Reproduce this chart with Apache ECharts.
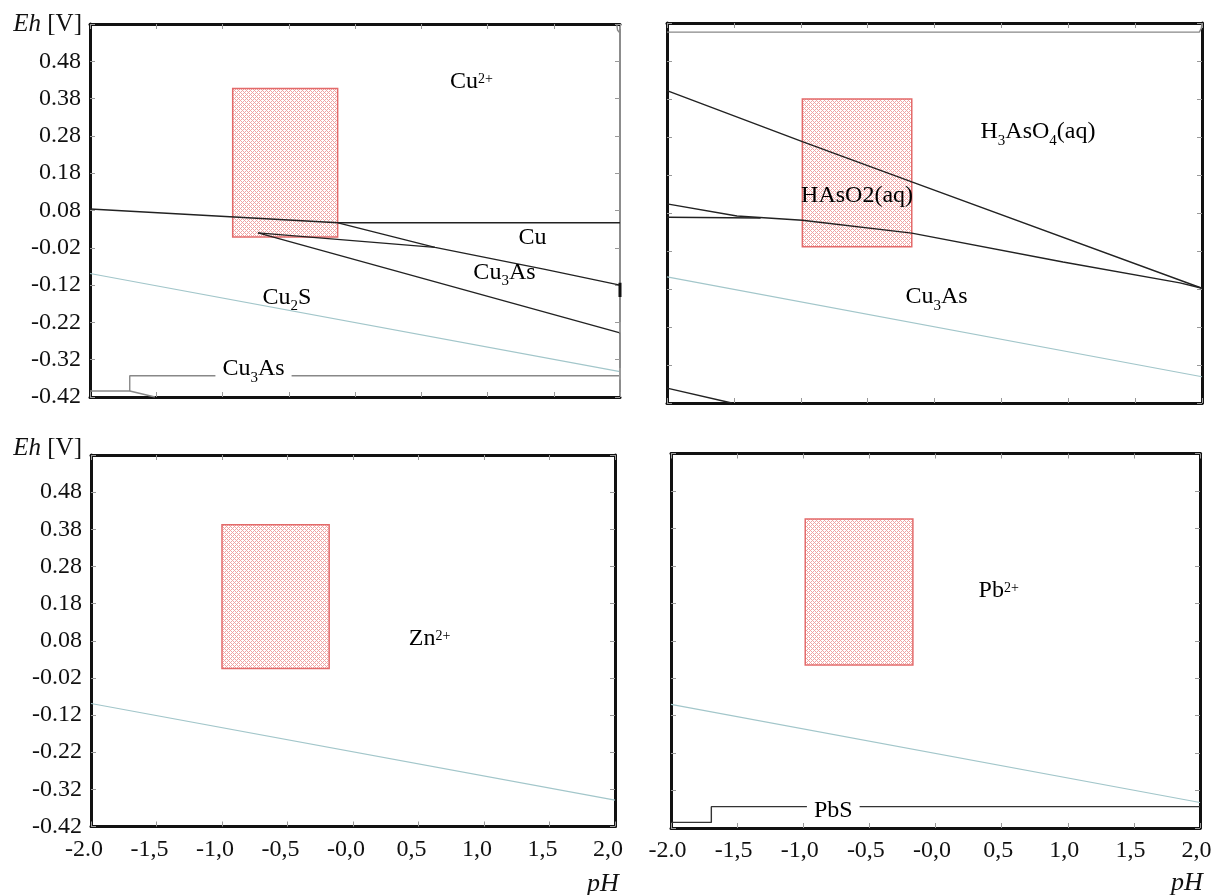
<!DOCTYPE html>
<html><head><meta charset="utf-8">
<script src="https://cdn.jsdelivr.net/npm/echarts@6/dist/echarts.min.js"></script>
<style>html,body{margin:0;padding:0;background:#fff}#c{width:1224px;height:895px}</style>
</head><body><div id="c"></div>
<script>
// ================= DATA (pH, Eh [V]) =================
const xTickLabels = ['-2.0','-1,5','-1,0','-0,5','-0,0','0,5','1,0','1,5','2,0'];
const yTickLabels = ['-0.42','-0.32','-0.22','-0.12','-0.02','0.08','0.18','0.28','0.38','0.48'];
const EH_MIN = -0.42;   // Eh at bottom of every panel
const EH_MAX = 0.58;    // Eh at top of every panel

// --- panel 1 (top-left) : Cu system ---
const tlLineA = [[-2.0,0.084],[-0.128,0.047],[2.0,0.047]];
const tlLineB = [[-0.128,0.047],[0.604,-0.019],[1.434,-0.078],[2.0,-0.120]];
const tlLineC = [[-0.732,0.020],[0.604,-0.019]];
const tlLineD = [[-0.732,0.020],[2.0,-0.248]];
const tlWater = [[-2.0,-0.089],[2.0,-0.352]];
const tlStep = [[-2.0,-0.404],[-1.70,-0.404],[-1.70,-0.363],[2.0,-0.363]];
const tlStepDiag = [[-1.70,-0.404],[-1.51,-0.42]];
const tlCorner = [[1.975,0.58],[1.982,0.563],[2.0,0.556]];
const tlEdge1 = [[2.0,-0.114],[2.0,-0.152]];
const tlEdge2 = [[2.0,-0.219],[2.0,-0.248]];
const tlEdge3 = [[2.0,-0.342],[2.0,-0.374]];
const tlRect = [-0.923,0.407,-0.131,0.009];
const tlLabels = [['Cu^2+',0.879,0.424],['Cu',1.340,0.008],['Cu_3As',1.128,-0.086],['Cu_2S',-0.513,-0.153],['Cu_3As',-0.766,-0.345]];

// --- panel 2 (top-right) : As system ---
const trTop = [[-2.0,0.556],[1.98,0.556],[1.995,0.566],[2.0,0.58]];
const trLineE = [[-2.0,0.402],[-0.988,0.268],[-0.170,0.162],[2.0,-0.118]];
const trLineF = [[-2.0,0.104],[-1.477,0.072],[-0.988,0.061],[-0.170,0.027],[0.961,-0.049],[1.835,-0.104],[2.0,-0.118]];
const trLineG = [[-2.0,0.069],[-1.30,0.067]];
const trLineH = [[-2.0,-0.381],[-1.516,-0.42]];
const trWater = [[-2.0,-0.088],[2.0,-0.351]];
const trRect = [-0.988,0.380,-0.170,-0.009];
const trLabels = [['H_3AsO_4(aq)',0.774,0.293],['HAsO2(aq)',-0.579,0.126],['Cu_3As',0.015,-0.140]];

// --- panel 3 (bottom-left) : Zn system ---
const blWater = [[-2.0,-0.089],[2.0,-0.349]];
const blRect = [-1.000,0.392,-0.182,0.005];
const blLabels = [['Zn^2+',0.584,0.085]];

// --- panel 4 (bottom-right) : Pb system ---
const brWater = [[-2.0,-0.090],[2.0,-0.352]];
const brStep = [[-2.0,-0.405],[-1.695,-0.405],[-1.695,-0.363],[2.0,-0.363]];
const brRect = [-0.985,0.405,-0.171,0.015];
const brLabels = [['Pb^2+',0.478,0.214],['PbS',-0.773,-0.375]];

// ================= STYLE / LAYOUT =================
const FONT = "'Liberation Serif','Times New Roman',serif";
const TICK_FS = 24;
const LAYOUT = [
  {left:90,  top:24,    width:530, height:373},
  {left:667, top:23,    width:535, height:380},
  {left:91,  top:455,   width:524, height:371.5},
  {left:671, top:453.5, width:529, height:374.5}
];
const LS = {
  bnd:{color:'#222',width:1.4},
  water:{color:'#a2c6ca',width:1.1},
  gray:{color:'#888',width:1.4},
  dark:{color:'#333',width:1.4},
  edge:{color:'#111',width:3},
  edgeGray:{color:'#9a9a9a',width:2}
};
const panels = [
  {lines:[[tlLineA,'bnd'],[tlLineB,'bnd'],[tlLineC,'bnd'],[tlLineD,'bnd'],[tlWater,'water'],[tlStep,'gray'],[tlStepDiag,'gray'],[tlCorner,'gray'],[tlEdge1,'edge'],[tlEdge2,'edgeGray'],[tlEdge3,'edgeGray']],
   rect:tlRect, labels:tlLabels, yLab:true, xLab:false, rightThin:true, xShift:0},
  {lines:[[trTop,'gray'],[trLineE,'bnd'],[trLineF,'bnd'],[trLineG,'bnd'],[trLineH,'bnd'],[trWater,'water']],
   rect:trRect, labels:trLabels, yLab:false, xLab:false, rightThin:false, xShift:0},
  {lines:[[blWater,'water']], rect:blRect, labels:blLabels, yLab:true, xLab:true, rightThin:false, xShift:7},
  {lines:[[brWater,'water'],[brStep,'dark']], rect:brRect, labels:brLabels, yLab:false, xLab:true, rightThin:false, xShift:3.5}
];

// crosshatch texture for the rectangles
const pc = document.createElement('canvas'); pc.width = 4; pc.height = 4;
const g2 = pc.getContext('2d');
g2.fillStyle = '#fff'; g2.fillRect(0,0,4,4);
g2.fillStyle = 'rgba(225,90,90,0.55)';
for (let x=0;x<4;x++) for (let y=0;y<4;y++) if ((x+y)%4===0 || (x-y+4)%4===0) g2.fillRect(x,y,1,1);
const PATTERN = {image: pc, repeat: 'repeat'};

function richOf(f){
  const re = /_(\d+)|\^(\d+[+-])|([^_^]+)/g; let m, s='';
  while ((m = re.exec(f))) { if (m[1]) s += '{b|'+m[1]+'}'; else if (m[2]) s += '{p|'+m[2]+'}'; else s += '{n|'+m[3]+'}'; }
  return s;
}
function richStyles(lh){
  return {
    n:{fontSize:24,fontFamily:FONT,color:'#000',lineHeight:lh,textBorderWidth:0},
    b:{fontSize:15,fontFamily:FONT,color:'#000',lineHeight:lh,padding:[18,0,0,0],textBorderWidth:0},
    p:{fontSize:14,fontFamily:FONT,color:'#000',lineHeight:lh,padding:[0,0,5,0],textBorderWidth:0}
  };
}
const sh = eh => eh - EH_MIN;

const grid=[], xAxis=[], yAxis=[], series=[];
const tick = {show:true, inside:true, length:5, lineStyle:{color:'#999', width:1}};
panels.forEach((p,i)=>{
  grid.push(Object.assign({outerBoundsMode:'none', containLabel:false}, LAYOUT[i]));
  const line = {onZero:false, lineStyle:{color:'#111', width:3}};
  xAxis.push({gridIndex:i, type:'value', min:-2, max:2, interval:0.5, position:'bottom', axisLine:line, axisTick:tick,
    axisLabel:{show:p.xLab, margin:11, fontSize:TICK_FS, fontFamily:FONT, color:'#111', padding:[0,p.xShift*2,0,0],
      formatter:v=>xTickLabels[Math.round((v+2)*2)]}, splitLine:{show:false}});
  xAxis.push({gridIndex:i, type:'value', min:-2, max:2, interval:0.5, position:'top', axisLine:line, axisTick:tick,
    axisLabel:{show:false}, splitLine:{show:false}});
  yAxis.push({gridIndex:i, type:'value', min:0, max:sh(EH_MAX), interval:0.1, position:'left', axisLine:line, axisTick:tick,
    axisLabel:{show:p.yLab, margin:9, fontSize:TICK_FS, fontFamily:FONT, color:'#111',
      formatter:v=>{const k=Math.round(v*10); return k<yTickLabels.length ? yTickLabels[k] : '';}}, splitLine:{show:false}});
  yAxis.push({gridIndex:i, type:'value', min:0, max:sh(EH_MAX), interval:0.1, position:'right',
    axisLine: p.rightThin ? {onZero:false, lineStyle:{color:'#666', width:1.5}} : line, axisTick:tick,
    axisLabel:{show:false}, splitLine:{show:false}});
  // region rectangle
  series.push({type:'custom', xAxisIndex:2*i, yAxisIndex:2*i, silent:true, animation:false, z:2,
    data:[[p.rect[0], sh(p.rect[1]), p.rect[2], sh(p.rect[3])]], encode:{x:[0,2], y:[1,3]},
    renderItem:(params, api)=>{
      const a = api.coord([api.value(0), api.value(1)]);
      const b = api.coord([api.value(2), api.value(3)]);
      return {type:'rect', shape:{x:Math.min(a[0],b[0]), y:Math.min(a[1],b[1]), width:Math.abs(b[0]-a[0]), height:Math.abs(b[1]-a[1])},
        style:{fill:PATTERN, stroke:'#e36a6a', lineWidth:1.5}};
    }});
  // boundary lines
  p.lines.forEach(([pts, st])=>{
    series.push({type:'line', xAxisIndex:2*i, yAxisIndex:2*i, data:pts.map(q=>[q[0], sh(q[1])]), symbol:'none',
      silent:true, animation:false, z:3, lineStyle:LS[st]});
  });
  // region labels
  series.push({type:'scatter', xAxisIndex:2*i, yAxisIndex:2*i, symbolSize:1, silent:true, animation:false, z:5,
    itemStyle:{color:'rgba(0,0,0,0)', opacity:1},
    data:p.labels.map(([t,ph,eh])=>{
      const boxed = (t==='PbS') || (t==='Cu_3As' && eh < -0.3);
      return {value:[ph, sh(eh)], rt:richOf(t),
        label: boxed ? {backgroundColor:'#fff', padding:[0,7], rich:richStyles(18)} : {rich:richStyles(30)}};
    }),
    label:{show:true, position:'inside', color:'#000', textBorderWidth:0, opacity:1, formatter:q=>q.data.rt, rich:richStyles(30)}});
});

const L2 = LAYOUT[2], L3 = LAYOUT[3];
const ehRich = {i:{fontStyle:'italic', fontSize:25, fontFamily:FONT, fill:'#111', color:'#111'}};
const graphic = [
  {type:'text', x:LAYOUT[0].left-8, y:LAYOUT[0].top, silent:true,
   style:{text:'{i|Eh} [V]', rich:ehRich, fontSize:25, fontFamily:FONT, fill:'#111', align:'right', verticalAlign:'middle'}},
  {type:'text', x:L2.left-9, y:L2.top-7, silent:true,
   style:{text:'{i|Eh} [V]', rich:ehRich, fontSize:25, fontFamily:FONT, fill:'#111', align:'right', verticalAlign:'middle'}},
  {type:'text', x:L2.left+L2.width-12, y:L2.top+L2.height+58, silent:true,
   style:{text:'pH', fontStyle:'italic', fontSize:26, fontFamily:FONT, fill:'#111', align:'center', verticalAlign:'middle'}},
  {type:'text', x:L3.left+L3.width-13, y:L3.top+L3.height+55, silent:true,
   style:{text:'pH', fontStyle:'italic', fontSize:26, fontFamily:FONT, fill:'#111', align:'center', verticalAlign:'middle'}}
];

const chart = echarts.init(document.getElementById('c'), null, {renderer:'canvas'});
chart.setOption({animation:false, backgroundColor:'#fff', grid, xAxis, yAxis, series, graphic});
</script></body></html>
